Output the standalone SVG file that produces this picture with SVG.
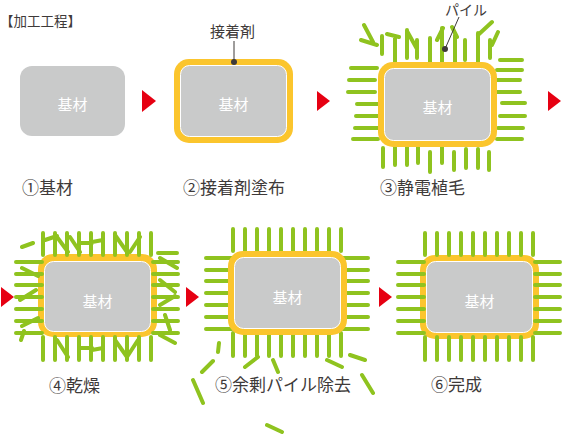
<svg xmlns="http://www.w3.org/2000/svg" width="562" height="434" viewBox="0 0 562 434">
<defs>
<style>
text{font-family:"Noto Sans CJK JP","Noto Sans",sans-serif;}
.lbl{font-size:17px;fill:#3e3a39;}
.in{font-size:15px;fill:#ffffff;text-anchor:middle;}
.sm{font-size:15px;fill:#3e3a39;}
.base{fill:#c9caca;}
.basew{fill:#c9caca;stroke:#ffffff;stroke-width:1;}
.glue{fill:#fbc52d;}
.pile{fill:none;stroke:#8fc31f;stroke-width:4;stroke-linecap:round;}
.arr{fill:#e60012;}
.lead{stroke:#3e3a39;stroke-width:1;fill:none;}
</style>
<path id="regular" class="pile" d="M425,233V255M437,233V255M449,233V255M461,233V255M473,233V255M485,233V255M497,233V255M509,233V255M521,233V255M533,233V255
M425,337V360M437,337V360M449,337V360M461,337V360M473,337V360M485,337V360M497,337V360M509,337V360M521,337V360M533,337V360
M398,262H424M398,274H424M398,285H424M398,297H424M398,309H424M398,321H424M398,333H424
M535,262H560M535,274H560M535,285H560M535,297H560M535,309H560M535,321H560M535,333H560"/>
</defs>
<rect width="562" height="434" fill="#ffffff"/>
<text x="0" y="26" style="font-size:13.5px;fill:#3e3a39">【加工工程】</text>

<g id="connectors">
<polygon class="arr" points="142,90 156,101 142,112"/>
<polygon class="arr" points="317,91 330,101 317,111"/>
<polygon class="arr" points="548,91 561,101 548,111"/>
<polygon class="arr" points="1,287 14,297 1,307"/>
<polygon class="arr" points="186,287 199,297 186,307"/>
<polygon class="arr" points="379,287 392,297 379,307"/>
</g>

<g id="stage1">
<rect class="base" x="20" y="66" width="105" height="70" rx="12"/>
<text class="in" x="72.5" y="110">基材</text>
<text class="lbl" x="22" y="194">①基材</text>
</g>

<g id="stage2">
<rect class="glue" x="174" y="59" width="119" height="84" rx="15"/>
<rect class="basew" x="180.5" y="65.5" width="106" height="71" rx="9"/>
<text class="in" x="233.5" y="110">基材</text>
<line class="lead" x1="234" y1="41" x2="234" y2="62"/>
<circle cx="234" cy="62" r="3" fill="#3e3a39"/>
<text class="sm" x="210" y="37">接着剤</text>
<text class="lbl" x="183" y="194">②接着剤塗布</text>
</g>

<g id="stage3">
<path class="pile" d="M351,68H377M349,80H375M348,92H375M357,104H383M356,116H382M355,128H380M353,139H378
M500,60H522M497,70H522M495,80H520M497,92H520M502,103H525M500,116H525M498,128H523M497,139H522
M383,148V167M395,146V165M407,144V165M418,143V163M430,152V172M442,142V163M454,152V170M466,149V168M478,149V168M489,152V170
M364,25L373,42M361,40L377,45M382,36V54M387,34L399,37M395,38V63M407,30V58M407,31L417,49M417,40V58M430,38V62M437,40L443,28M442,28V62M452,27L457,37M455,35V64M465,40V60M478,35L492,22M478,33V62M490,40V58M492,45L498,32"/>
<rect class="glue" x="378" y="62" width="119" height="85" rx="15"/>
<rect class="basew" x="384.5" y="68.5" width="106" height="72" rx="9"/>
<text class="in" x="437.5" y="113">基材</text>
<line class="lead" x1="459" y1="17" x2="445" y2="49"/>
<circle cx="445" cy="49" r="3" fill="#3e3a39"/>
<text class="sm" x="445" y="15" style="font-size:14px">パイル</text>
<text class="lbl" x="380" y="194">③静電植毛</text>
</g>

<g id="stage4">
<rect class="glue" x="38" y="254" width="119" height="83" rx="15"/>
<use href="#regular" transform="translate(-382,0)"/>
<path class="pile" d="M45,240L57,236M57,237L68,252M70,237L80,252M80,243H92M92,242L103,240M115,235L127,252M130,252L140,237
M22,247L33,243M22,268L38,276M20,300L36,290M22,326L38,318M24,331L21,340
M158,253H177M160,258L177,268M160,280L175,292M160,305L175,296M165,315L170,330M160,335L175,343
M57,340L68,357M80,348H92M92,350L103,348M115,340L127,357M127,357L138,340"/>
<rect class="basew" x="44.5" y="261.5" width="106" height="70" rx="9"/>
<text class="in" x="97.5" y="307">基材</text>
<text class="lbl" x="49" y="392">④乾燥</text>
</g>

<g id="stage5">
<use href="#regular" transform="translate(-192,-4)"/>
<rect class="glue" x="228" y="251" width="119" height="84" rx="15"/>
<rect class="basew" x="234.5" y="257.5" width="106" height="71" rx="9"/>
<path class="pile" d="M219,343L218,352M213,361L202,372M193,380L203,403M245,367L258,357M273,360L278,372M267,425L282,432M327,360L342,367M350,355L365,360M362,375L373,393"/>
<text class="in" x="287.5" y="303">基材</text>
<text class="lbl" x="215" y="391">⑤余剰パイル除去</text>
</g>

<g id="stage6">
<rect class="glue" x="420" y="255" width="119" height="84" rx="15"/>
<use href="#regular"/>
<rect class="basew" x="426.5" y="261.5" width="106" height="71" rx="9"/>
<text class="in" x="479.5" y="307">基材</text>
<text class="lbl" x="431" y="391">⑥完成</text>
</g>
</svg>
